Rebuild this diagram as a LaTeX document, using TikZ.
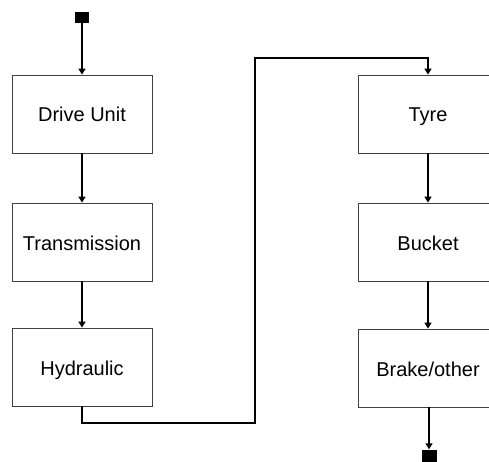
\documentclass[tikz,border=0pt]{standalone}
\usepackage{fontspec}
\setmainfont{Liberation Sans}
\usetikzlibrary{arrows.meta,positioning}

\begin{document}
\begin{tikzpicture}[
  x=1pt, y=-1pt,
  font=\fontsize{20}{24}\selectfont,
  blk/.style={draw=black!75, line width=0.8pt, fill=white, minimum width=140pt, minimum height=78pt, inner sep=0pt, text height=16pt, text depth=0pt, align=center},
  term/.style={fill=black, inner sep=0pt, minimum width=14pt, minimum height=11pt},
  >={Triangle[length=6pt, width=7pt]},
  every edge/.style={draw, line width=1.6pt, ->}
]
\useasboundingbox (0,0) rectangle (489,462);

% left column
\node[term] (start) at (82,17.5) {};
\node[blk] (drive) at (82,114) {Drive Unit};
\node[blk] (trans) at (82,242) {Transmission};
\node[blk] (hydr)  at (82,367) {Hydraulic};

% right column
\node[blk] (tyre)   at (428,114) {Tyre};
\node[blk] (bucket) at (428,242) {Bucket};
\node[blk] (brake)  at (428,368) {Brake/other};
\node[term, minimum width=15pt, minimum height=13pt] (stop) at (429,456) {};

\draw (start) edge (drive);
\draw (drive) edge (trans);
\draw (trans) edge (hydr);

% crossing from bottom left to top right
\coordinate (low)  at (255,423);
\coordinate (high) at (255,58);
\draw[line width=1.6pt, ->] (hydr.south) |- (low) -- (high) -| (tyre.north);

\draw (tyre) edge (bucket);
\draw (bucket) edge (brake);
\draw (brake.south -| stop) edge (stop.north);

\end{tikzpicture}
\end{document}
